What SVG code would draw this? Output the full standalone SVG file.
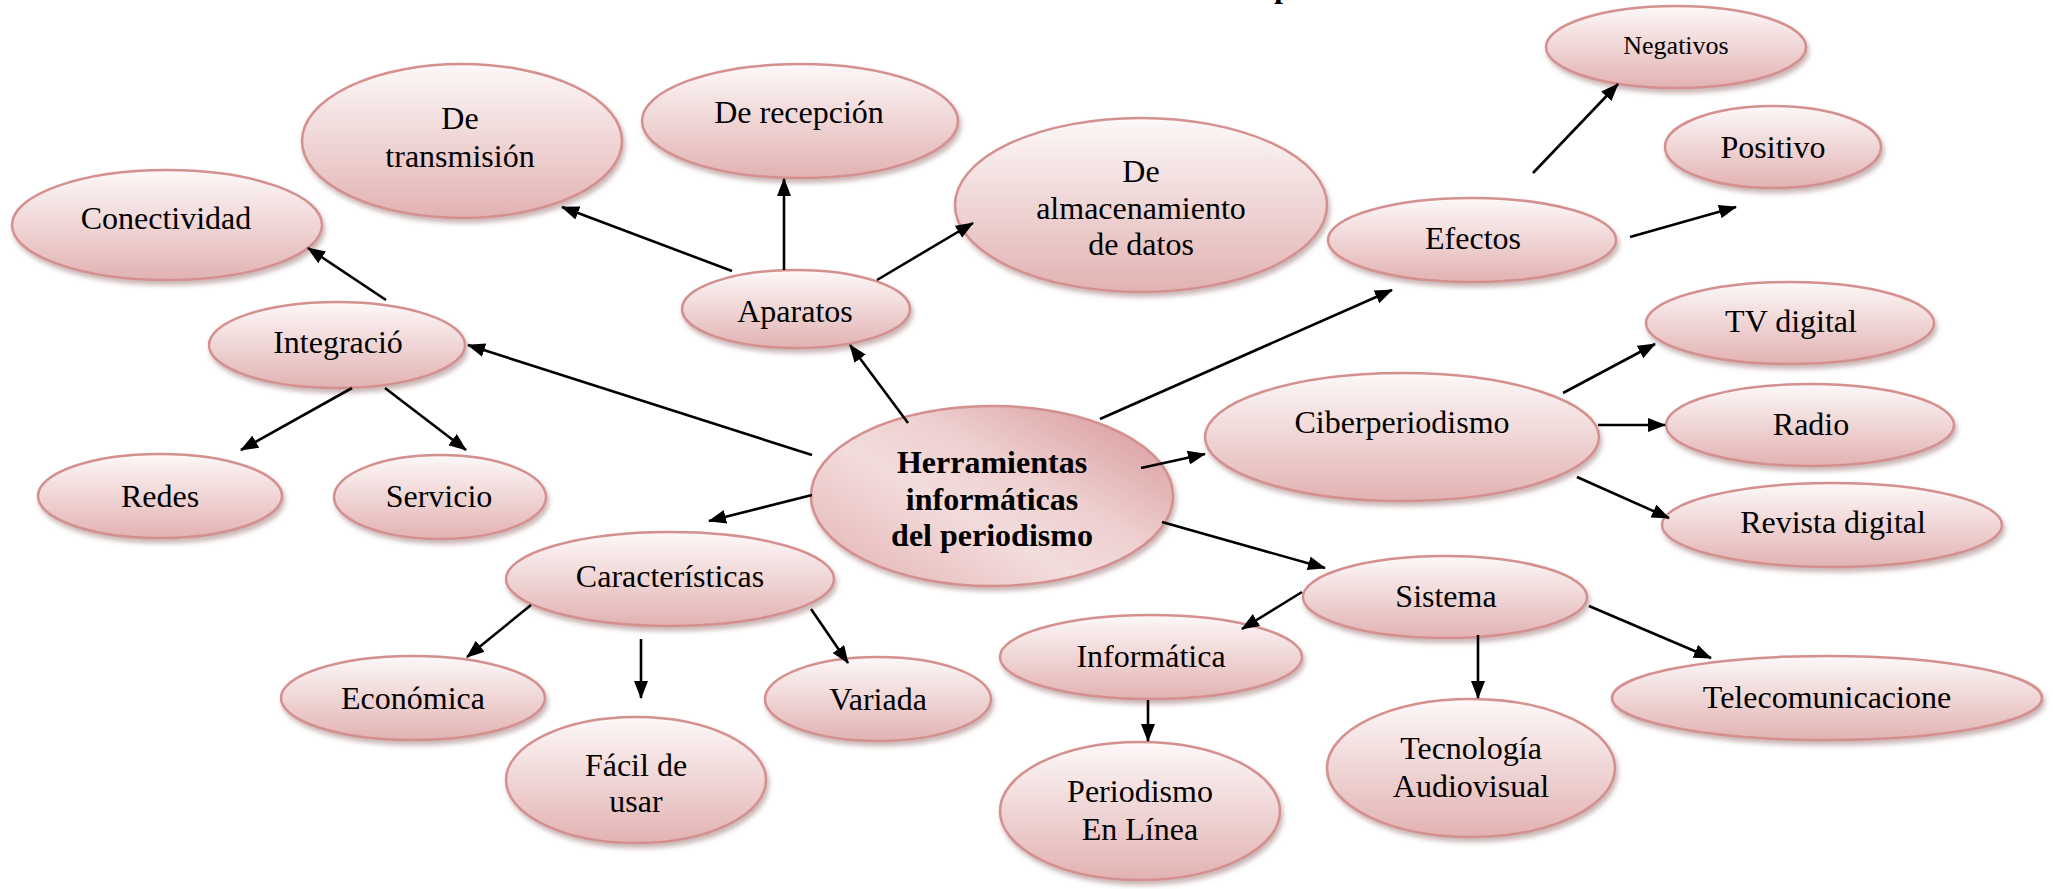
<svg xmlns="http://www.w3.org/2000/svg" width="2053" height="889" viewBox="0 0 2053 889">
<defs>
<linearGradient id="g" x1="0" y1="0" x2="0" y2="1">
<stop offset="0" stop-color="#fdf8f8"/>
<stop offset="0.45" stop-color="#f1d9d9"/>
<stop offset="1" stop-color="#e3b2b2"/>
</linearGradient>
<linearGradient id="gc" x1="0.1" y1="0.8" x2="0.9" y2="0.1">
<stop offset="0" stop-color="#e9c0c0"/>
<stop offset="0.35" stop-color="#f3dcdc"/>
<stop offset="0.6" stop-color="#eed0d0"/>
<stop offset="1" stop-color="#dca1a1"/>
</linearGradient>
<filter id="sh" x="-10%" y="-10%" width="125%" height="135%">
<feDropShadow dx="2" dy="4" stdDeviation="2.5" flood-color="#8a5a5a" flood-opacity="0.45"/>
</filter>
<marker id="ah" markerUnits="userSpaceOnUse" markerWidth="20" markerHeight="16" refX="17" refY="7" orient="auto">
<path d="M0,0 L18,7 L0,14 z" fill="#000"/>
</marker>
</defs>
<style>
.n ellipse{fill:url(#g);stroke:#d4908f;stroke-width:2.5;filter:url(#sh)}
.n text{font-family:"Liberation Serif","Times New Roman",serif;font-size:32px;fill:#000;text-anchor:middle}
#herr ellipse{fill:url(#gc)}
#herr text{font-weight:bold}
#neg text{font-size:26px}
.c line{stroke:#000;stroke-width:2.6;marker-end:url(#ah)}
</style>
<rect width="2053" height="889" fill="#fff"/>
<text x="1274" y="-3" font-family="'Liberation Serif','Times New Roman',serif" font-size="32" font-weight="bold">p</text>

<g id="trans" class="n"><ellipse cx="462" cy="141" rx="160" ry="77"/><text x="460" y="129">De</text><text x="460" y="167">transmisión</text></g>
<g id="recep" class="n"><ellipse cx="800" cy="121" rx="158" ry="57"/><text x="799" y="123">De recepción</text></g>
<g id="almac" class="n"><ellipse cx="1141" cy="205" rx="186" ry="87"/><text x="1141" y="182">De</text><text x="1141" y="219">almacenamiento</text><text x="1141" y="255">de datos</text></g>
<g id="conect" class="n"><ellipse cx="167" cy="225" rx="155" ry="55"/><text x="166" y="229">Conectividad</text></g>
<g id="integ" class="n"><ellipse cx="337" cy="345" rx="128" ry="43"/><text x="338" y="353">Integració</text></g>
<g id="apar" class="n"><ellipse cx="796" cy="309" rx="114" ry="39"/><text x="795" y="322">Aparatos</text></g>
<g id="neg" class="n"><ellipse cx="1676" cy="47" rx="130" ry="41"/><text x="1676" y="54">Negativos</text></g>
<g id="pos" class="n"><ellipse cx="1773" cy="147" rx="108" ry="41"/><text x="1773" y="158">Positivo</text></g>
<g id="efectos" class="n"><ellipse cx="1472" cy="240" rx="144" ry="42"/><text x="1473" y="249">Efectos</text></g>
<g id="tv" class="n"><ellipse cx="1790" cy="323" rx="144" ry="41"/><text x="1791" y="332">TV digital</text></g>
<g id="ciber" class="n"><ellipse cx="1402" cy="437" rx="197" ry="64"/><text x="1402" y="433">Ciberperiodismo</text></g>
<g id="radio" class="n"><ellipse cx="1810" cy="425" rx="144" ry="41"/><text x="1811" y="435">Radio</text></g>
<g id="revista" class="n"><ellipse cx="1832" cy="525" rx="170" ry="42"/><text x="1833" y="533">Revista digital</text></g>
<g id="redes" class="n"><ellipse cx="160" cy="496" rx="122" ry="42"/><text x="160" y="507">Redes</text></g>
<g id="serv" class="n"><ellipse cx="440" cy="497" rx="106" ry="42"/><text x="439" y="507">Servicio</text></g>
<g id="car" class="n"><ellipse cx="670" cy="579" rx="164" ry="47"/><text x="670" y="587">Características</text></g>
<g id="sistema" class="n"><ellipse cx="1445" cy="597" rx="142" ry="41"/><text x="1446" y="607">Sistema</text></g>
<g id="inform" class="n"><ellipse cx="1151" cy="657" rx="151" ry="42"/><text x="1151" y="667">Informática</text></g>
<g id="econ" class="n"><ellipse cx="413" cy="698" rx="132" ry="42"/><text x="413" y="709">Económica</text></g>
<g id="facil" class="n"><ellipse cx="636" cy="780" rx="130" ry="63"/><text x="636" y="776">Fácil de</text><text x="636" y="812">usar</text></g>
<g id="variada" class="n"><ellipse cx="878" cy="699" rx="113" ry="42"/><text x="878" y="710">Variada</text></g>
<g id="telecom" class="n"><ellipse cx="1827" cy="698" rx="215" ry="42"/><text x="1827" y="708">Telecomunicacione</text></g>
<g id="tecno" class="n"><ellipse cx="1471" cy="768" rx="144" ry="69"/><text x="1471" y="759">Tecnología</text><text x="1471" y="797">Audiovisual</text></g>
<g id="period" class="n"><ellipse cx="1140" cy="811" rx="140" ry="69"/><text x="1140" y="802">Periodismo</text><text x="1140" y="840">En Línea</text></g>
<g id="herr" class="n"><ellipse cx="992" cy="496" rx="181" ry="90"/><text x="992" y="473">Herramientas</text><text x="992" y="510">informáticas</text><text x="992" y="546">del periodismo</text></g>

<g id="connectors" class="c">
<line x1="732" y1="271" x2="562" y2="207"/>
<line x1="784" y1="270" x2="784" y2="179"/>
<line x1="877" y1="280" x2="973" y2="223"/>
<line x1="386" y1="300" x2="308" y2="248"/>
<line x1="812" y1="455" x2="468" y2="345"/>
<line x1="908" y1="423" x2="850" y2="345"/>
<line x1="352" y1="388" x2="241" y2="450"/>
<line x1="385" y1="388" x2="466" y2="450"/>
<line x1="1100" y1="419" x2="1392" y2="290"/>
<line x1="1533" y1="173" x2="1618" y2="84"/>
<line x1="1630" y1="237" x2="1736" y2="207"/>
<line x1="1141" y1="468" x2="1205" y2="454"/>
<line x1="1563" y1="393" x2="1655" y2="344"/>
<line x1="1598" y1="425" x2="1665" y2="425"/>
<line x1="1577" y1="477" x2="1669" y2="518"/>
<line x1="812" y1="495" x2="709" y2="521"/>
<line x1="1162" y1="522" x2="1325" y2="568"/>
<line x1="531" y1="605" x2="467" y2="657"/>
<line x1="641" y1="639" x2="641" y2="698"/>
<line x1="811" y1="609" x2="848" y2="663"/>
<line x1="1302" y1="592" x2="1242" y2="629"/>
<line x1="1478" y1="635" x2="1478" y2="698"/>
<line x1="1589" y1="606" x2="1711" y2="658"/>
<line x1="1148" y1="700" x2="1148" y2="741"/>
</g>
</svg>
